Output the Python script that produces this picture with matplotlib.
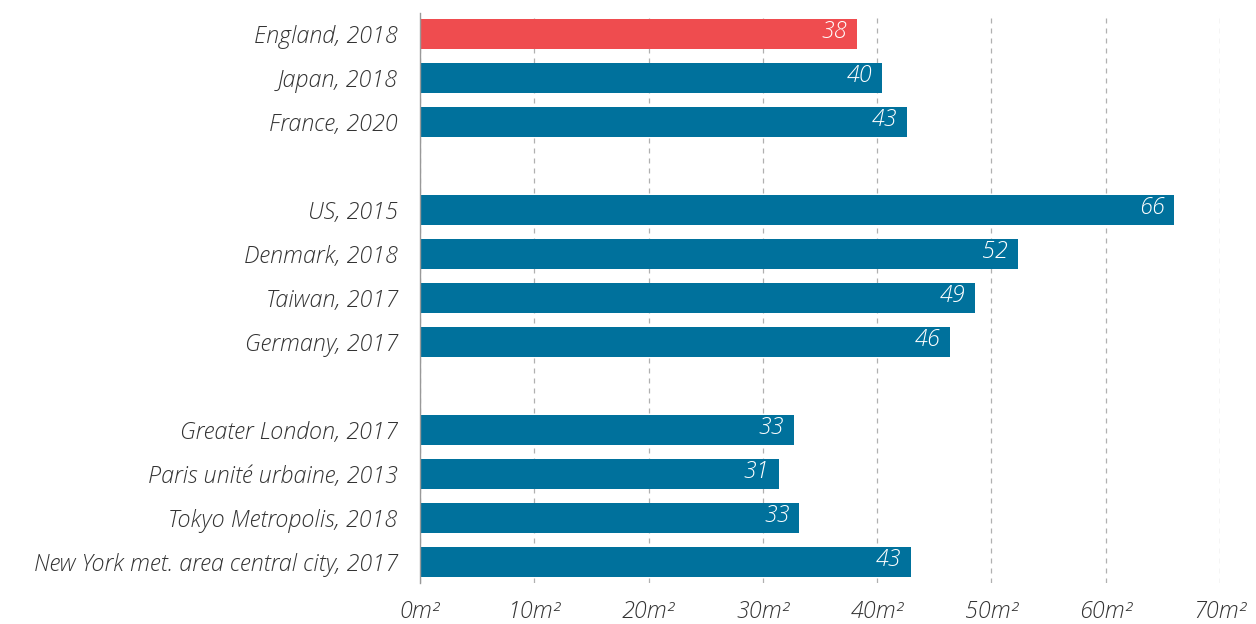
import matplotlib.pyplot as plt
import numpy as np

plt.rcParams['font.family'] = ['Open Sans', 'DejaVu Sans']

labels = ['England, 2018', 'Japan, 2018', 'France, 2020',
          'US, 2015', 'Denmark, 2018', 'Taiwan, 2017', 'Germany, 2017',
          'Greater London, 2017', 'Paris unité urbaine, 2013',
          'Tokyo Metropolis, 2018', 'New York met. area central city, 2017']
values = [38.2, 40.4, 42.6, 66.0, 52.3, 48.6, 46.4, 32.7, 31.4, 33.2, 43.0]
# empty rows separate the three groups
rows = [0, 1, 2, 4, 5, 6, 7, 9, 10, 11, 12]
colors = ['#ef4c4f'] + ['#00719c'] * 10
xticks = [0, 10, 20, 30, 40, 50, 60, 70]

fig = plt.figure(figsize=(12.56, 6.24), dpi=100)
ax = fig.add_axes([420 / 1256, 1 - 583 / 624, 800 / 1256, 570 / 624])

ax.barh(rows, values, height=0.68, color=colors, zorder=2)
for r, v in zip(rows, values):
    ax.text(v - 0.85, r - 0.04, f'{v:.0f}', ha='right', va='center', color='white',
            fontsize=16.8, fontstyle='italic', fontweight='light', zorder=3)

ax.set_xlim(0, 70)
ax.set_ylim(12.48, -0.48)
ax.set_yticks(rows)
ax.set_yticklabels(labels)
ax.set_xticks(xticks)
ax.set_xticklabels([f'{t}m²' for t in xticks])
for lab in ax.get_yticklabels() + ax.get_xticklabels():
    lab.set_fontstyle('italic')
    lab.set_fontsize(16.8)
    lab.set_fontweight('light')
    lab.set_color('#333333')

ax.tick_params(axis='both', length=0)
ax.tick_params(axis='y', pad=16)
ax.tick_params(axis='x', pad=12)
ax.xaxis.grid(True, linestyle=(0, (4, 4)), color='#b0b0b0', linewidth=0.9, zorder=0)
for s in ['top', 'right', 'bottom']:
    ax.spines[s].set_visible(False)
ax.spines['left'].set_color('#999999')
ax.spines['left'].set_linewidth(1)

fig.savefig('out.png', dpi=100)
